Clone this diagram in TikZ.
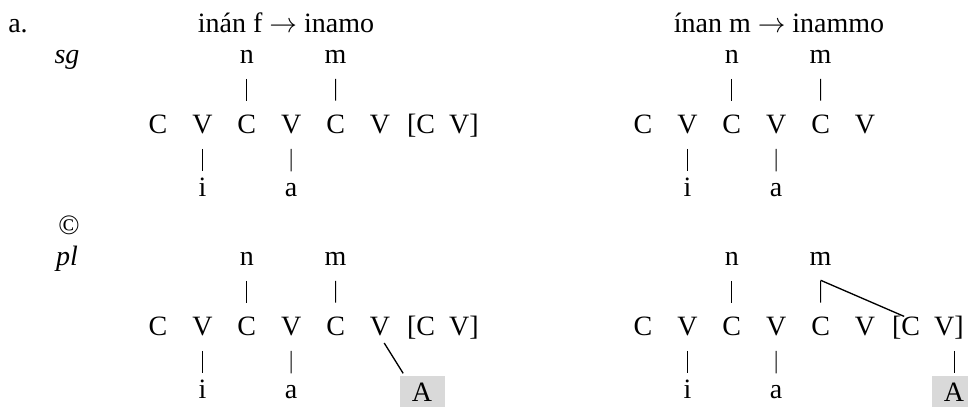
\documentclass[tikz,border=0pt]{standalone}
\usepackage{fontspec}
\setmainfont{Liberation Serif}
\usetikzlibrary{positioning,calc}

\begin{document}
\begin{tikzpicture}[x=0.75pt,y=0.75pt,
	  every node/.style={font=\fontsize{21}{25}\selectfont,inner sep=0pt,anchor=base},
	  seg/.style={text height=13.9pt,text depth=0pt},
	  melody/.style={text height=8pt,text depth=0pt},
	  lbl/.style={font=\fontsize{21}{25}\selectfont\itshape},
	  boxed/.style={seg,fill=black!15,minimum width=33.75pt,inner ysep=5.7pt},
	  link/.style={draw=black,line width=0.75pt,shorten <=11pt,shorten >=11pt},
	  spread/.style={draw=black,line width=1pt}]

	  \useasboundingbox (0,0) rectangle (968,407);
	  \clip (0,0) rectangle (968,407);

	  % headings
	  \node[anchor=base west] (ex) at (8,374) {a.};
	  \node (a-title) at (286,374) {inán f $\rightarrow$ inamo};
	  \node (b-title) at (779,374) {ínan m $\rightarrow$ inammo};
	  \node[lbl] (sg) at (67,343) {sg};
	  \node (copy) at (69,172) {©};
	  \node[lbl] (pl) at (67,141) {pl};

	  % skeleton with its tiers
	  \foreach \blk/\dx/\dy in {a/0/0,b/485/0,c/0/-202,d/485/-202}{
	     \foreach \lab [count=\k] in {C,V,C,V,C,V}
	        \node[seg] (\blk\k) at ({113.6+44.4*\k+\dx},{273+\dy}) {\lab};
	     \node[seg] (\blk-n) at ({246.8+\dx},{343+\dy}) {n};
	     \node[seg] (\blk-m) at ({335.6+\dx},{343+\dy}) {m};
	     \node[melody] (\blk-i) at ({202.4+\dx},{210+\dy}) {i};
	     \node[melody] (\blk-a) at ({291.2+\dx},{210+\dy}) {a};
	     \draw[link] (\blk-n.south) -- (\blk3.north);
	     \draw[link] (\blk-m.south) -- (\blk5.north);
	     \draw[link] (\blk2.south) -- (\blk-i.north);
	     \draw[link] (\blk4.south) -- (\blk-a.north);
	  }
	  \foreach \blk/\dx/\dy in {a/0/0,c/0/-202,d/485/-202}{
	     \node[seg] (\blk-bl) at ({421+\dx},{273+\dy}) {[C};
	     \node[seg] (\blk-br) at ({464+\dx},{273+\dy}) {V]};
	  }

	  % plural suffix
	  \node[boxed] (c-A) at (422,5) {A};
	  \node[boxed] (d-A) at (954,5) {A};
	  \draw[spread,shorten <=6pt,shorten >=2pt] (c6.south) -- ([xshift=4pt]c-A.north west);
	  \draw[link,shorten >=2pt] (d-br.south -| d-A.north) -- (d-A.north);
	  \coordinate (d-fork) at ([yshift=-10.5pt]d-m.south);
	  \draw[spread,shorten >=1.5pt] (d-fork) -- (d-bl.north);
\end{tikzpicture}
\end{document}
